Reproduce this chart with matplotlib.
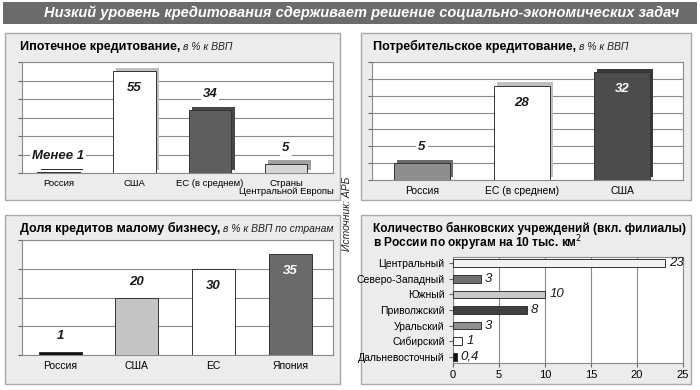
import matplotlib
matplotlib.use("Agg")
import matplotlib.pyplot as plt
import matplotlib.patheffects as pe
from matplotlib.patches import Rectangle

plt.rcParams["font.family"] = ["Liberation Sans", "DejaVu Sans"]

W, H = 700, 390

# ---- data ----
mort_cats = ["Россия", "США", "ЕС (в среднем)", "Страны\nЦентральной Европы"]
mort_vals = [0.5, 55, 34, 5]
mort_text = ["Менее 1", "55", "34", "5"]
mort_colors = ["#3c3c3c", "#ffffff", "#5e5e5e", "#d6d6d6"]

cons_cats = ["Россия", "ЕС (в среднем)", "США"]
cons_vals = [5, 28, 32]
cons_text = ["5", "28", "32"]
cons_colors = ["#8e8e8e", "#ffffff", "#4c4c4c"]

sme_cats = ["Россия", "США", "ЕС", "Япония"]
sme_vals = [1, 20, 30, 35]
sme_text = ["1", "20", "30", "35"]
sme_colors = ["#111111", "#c4c4c4", "#ffffff", "#6a6a6a"]

reg_cats = ["Центральный", "Северо-Западный", "Южный", "Приволжский",
            "Уральский", "Сибирский", "Дальневосточный"]
reg_vals = [23, 3, 10, 8, 3, 1, 0.4]
reg_text = ["23", "3", "10", "8", "3", "1", "0,4"]
reg_colors = ["#f2f2f2", "#707070", "#c8c8c8", "#404040", "#909090", "#ffffff", "#111111"]


def box(x0, y0, x1, y1):
    return [x0 / W, 1 - y1 / H, (x1 - x0) / W, (y1 - y0) / H]


def darker(c, k=0.6):
    r, g, b = matplotlib.colors.to_rgb(c)
    return (r * k, g * k, b * k)


fig = plt.figure(figsize=(7, 3.9), dpi=100)

# banner
fig.patches.append(Rectangle((3 / W, 1 - 24 / H), 694 / W, 22 / H,
                             transform=fig.transFigure, facecolor="#6b6b6b",
                             edgecolor="none", zorder=-5))
fig.text(362 / W, 1 - 13 / H,
         "Низкий уровень кредитования сдерживает решение социально-экономических задач",
         color="white", fontsize=10.5, fontweight="bold", style="italic",
         ha="center", va="center")

# panel frames
for x0, y0, x1, y1 in [(5, 33, 340, 200), (361, 33, 691, 200),
                       (5, 215, 340, 384), (361, 215, 691, 384)]:
    fig.patches.append(Rectangle((x0 / W, 1 - y1 / H), (x1 - x0) / W, (y1 - y0) / H,
                                 transform=fig.transFigure, facecolor="#ececec",
                                 edgecolor="#a8a8a8", linewidth=1, zorder=-5))

fig.text(347 / W, 1 - 214 / H, "Источник: АРБ", rotation=90, style="italic",
         fontsize=7.5, ha="center", va="center", color="#222222")


def title_pair(x, y, bold, italic, fs=9):
    t = fig.text(x / W, 1 - y / H, bold, fontsize=fs, fontweight="bold",
                 ha="left", va="baseline")
    fig.canvas.draw()
    bb = t.get_window_extent()
    fig.text((bb.x1 + 3) / W, 1 - y / H, italic, fontsize=7.5, style="italic",
             ha="left", va="baseline", color="#222222")


def column_panel(rect, cats, vals, texts, colors, ymax, step, shade3d, xlim, lab_fs):
    ax = fig.add_axes(box(*rect))
    x = range(len(cats))
    bars = ax.bar(x, vals, width=0.56, color=colors, edgecolor="#333333",
                  linewidth=0.7, zorder=3)
    if shade3d:
        for b, c in zip(bars, colors):
            b.set_path_effects([pe.SimplePatchShadow(offset=(2.5, 2.5),
                                                     shadow_rgbFace=darker(c, 0.75),
                                                     alpha=1.0),
                                pe.Normal()])
    ax.set_xlim(*xlim)
    ax.set_ylim(0, ymax)
    ax.set_yticks(range(0, ymax + 1, step))
    ax.set_yticklabels([])
    ax.yaxis.grid(True, color="#8a8a8a", linewidth=0.8, zorder=0)
    ax.set_xticks(list(x))
    ax.set_xticklabels(cats, fontsize=lab_fs, linespacing=0.9)
    ax.tick_params(axis="x", length=0, pad=4)
    ax.tick_params(axis="y", length=3, color="#666666")
    for s in ax.spines.values():
        s.set_color("#8a8a8a")
        s.set_linewidth(0.8)
    for i, (v, t, c) in enumerate(zip(vals, texts, colors)):
        dark = sum(matplotlib.colors.to_rgb(c)) < 1.6
        inside = v > ymax * 0.7
        ax.annotate(t, (i, v), xytext=(0, -8 if inside else 7),
                    textcoords="offset points", ha="center",
                    va="top" if inside else "bottom",
                    fontsize=9.5, fontweight="bold", style="italic",
                    color="white" if (inside and dark) else "#1a1a1a",
                    bbox=None if inside else dict(boxstyle="square,pad=0.15",
                                                  fc="white", ec="none"),
                    zorder=5)
    return ax


# panel 1: mortgage
title_pair(20, 50, "Ипотечное кредитование,", "в % к ВВП")
column_panel((22, 62, 333, 173), mort_cats, mort_vals, mort_text, mort_colors,
             60, 10, True, (-0.48, 3.62), 6.8)

# panel 2: consumer
title_pair(373, 50, "Потребительское кредитование,", "в % к ВВП")
column_panel((372, 62, 683, 180), cons_cats, cons_vals, cons_text, cons_colors,
             35, 5, True, (-0.5, 2.61), 7.5)

# panel 3: small business
title_pair(20, 232, "Доля кредитов малому бизнесу,", "в % к ВВП по странам")
column_panel((22, 240, 333, 355), sme_cats, sme_vals, sme_text, sme_colors,
             40, 10, False, (-0.5, 3.56), 7.5)

# panel 4: bank offices per region
fig.text(373 / W, 1 - 232 / H, "Количество банковских учреждений (вкл. филиалы)",
         fontsize=8.6, fontweight="bold", ha="left", va="baseline")
fig.text(373 / W, 1 - 247 / H, "в России по округам на 10 тыс. км$^2$",
         fontsize=8.6, fontweight="bold", ha="left", va="baseline")
ax = fig.add_axes(box(453, 257, 683, 363))
y = range(len(reg_cats))
ax.barh(y, reg_vals, height=0.5, color=reg_colors, edgecolor="#333333",
        linewidth=0.7, zorder=3)
ax.set_xlim(0, 25)
ax.set_ylim(len(reg_cats) - 0.6, -0.4)
ax.set_xticks(range(0, 26, 5))
ax.tick_params(axis="x", labelsize=8, length=3, color="#666666", pad=2)
ax.set_yticks(list(y))
ax.set_yticklabels(reg_cats, fontsize=7.5)
ax.tick_params(axis="y", length=3, color="#666666", pad=3)
ax.xaxis.grid(True, color="#8a8a8a", linewidth=0.8, zorder=0)
for s in ax.spines.values():
    s.set_color("#8a8a8a")
    s.set_linewidth(0.8)
for i, (v, t) in enumerate(zip(reg_vals, reg_text)):
    ax.annotate(t, (v, i), xytext=(3, 0), textcoords="offset points",
                ha="left", va="center", fontsize=9.5, style="italic",
                color="#1a1a1a", zorder=5)

fig.savefig("out.png", dpi=100)
